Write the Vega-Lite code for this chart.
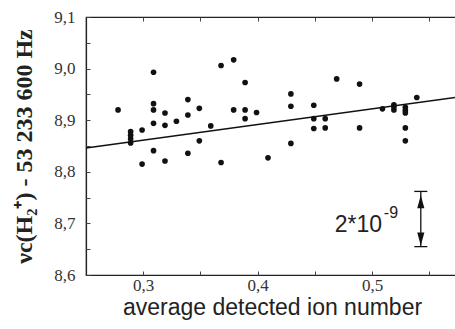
{
  "$schema": "https://vega.github.io/schema/vega-lite/v6.json",
  "autosize": "none",
  "padding": {"left": 86, "top": 17, "right": 0, "bottom": 54},
  "width": 372,
  "height": 258,
  "background": "white",
  "config": {
    "view": {"stroke": "#222", "strokeWidth": 1.2},
    "axis": {"grid": false, "domainColor": "#222", "tickColor": "#444", "labelColor": "#333", "titleColor": "#222"}
  },
  "resolve": {"axis": {"x": "independent", "y": "independent"}},
  "datasets": {
    "pts": [
      {"n": 0.278, "f": 8.920},
      {"n": 0.289, "f": 8.878}, {"n": 0.289, "f": 8.871}, {"n": 0.289, "f": 8.864}, {"n": 0.289, "f": 8.856},
      {"n": 0.299, "f": 8.881}, {"n": 0.299, "f": 8.815},
      {"n": 0.309, "f": 8.993}, {"n": 0.309, "f": 8.932}, {"n": 0.309, "f": 8.920}, {"n": 0.309, "f": 8.894}, {"n": 0.309, "f": 8.841},
      {"n": 0.319, "f": 8.914}, {"n": 0.319, "f": 8.890}, {"n": 0.319, "f": 8.821},
      {"n": 0.329, "f": 8.898},
      {"n": 0.339, "f": 8.940}, {"n": 0.339, "f": 8.910}, {"n": 0.339, "f": 8.836},
      {"n": 0.349, "f": 8.923}, {"n": 0.349, "f": 8.860},
      {"n": 0.359, "f": 8.889},
      {"n": 0.368, "f": 9.006}, {"n": 0.368, "f": 8.818},
      {"n": 0.379, "f": 9.017}, {"n": 0.379, "f": 8.920},
      {"n": 0.389, "f": 8.973}, {"n": 0.389, "f": 8.920}, {"n": 0.389, "f": 8.903},
      {"n": 0.399, "f": 8.915},
      {"n": 0.409, "f": 8.827},
      {"n": 0.429, "f": 8.951}, {"n": 0.429, "f": 8.927}, {"n": 0.429, "f": 8.855},
      {"n": 0.449, "f": 8.929}, {"n": 0.449, "f": 8.903}, {"n": 0.449, "f": 8.884},
      {"n": 0.459, "f": 8.903}, {"n": 0.459, "f": 8.885},
      {"n": 0.469, "f": 8.980},
      {"n": 0.489, "f": 8.970}, {"n": 0.489, "f": 8.885},
      {"n": 0.509, "f": 8.922},
      {"n": 0.519, "f": 8.930}, {"n": 0.519, "f": 8.926}, {"n": 0.519, "f": 8.920},
      {"n": 0.529, "f": 8.925}, {"n": 0.529, "f": 8.919}, {"n": 0.529, "f": 8.914}, {"n": 0.529, "f": 8.885}, {"n": 0.529, "f": 8.860},
      {"n": 0.539, "f": 8.944}
    ],
    "fit": [{"n": 0.25, "f": 8.846}, {"n": 0.575, "f": 8.945}],
    "bar": [{"n": 0.5425, "f": 8.655, "f2": 8.762}],
    "caps": [{"n": 0.5368, "n2": 0.5482, "f": 8.762}, {"n": 0.5368, "n2": 0.5482, "f": 8.655}],
    "headUp": [{"n": 0.5425, "f": 8.742}],
    "headDown": [{"n": 0.5425, "f": 8.670}],
    "labMain": [{"n": 0.5087, "f": 8.684, "t": "2*10"}],
    "labSup": [{"n": 0.5102, "f": 8.710, "t": "-9"}]
  },
  "layer": [
    {
      "data": {"name": "pts"},
      "mark": {"type": "point", "filled": true, "size": 32, "color": "#111", "opacity": 1},
      "encoding": {
        "x": {
          "field": "n", "type": "quantitative",
          "scale": {"domain": [0.25, 0.575], "nice": false, "zero": false},
          "axis": {
            "orient": "bottom",
            "values": [0.3, 0.4, 0.5],
            "labelExpr": "replace(format(datum.value, '.1f'), '.', ',')",
            "labelFont": "Liberation Serif", "labelFontSize": 17, "labelPadding": 2,
            "ticks": false, "domainWidth": 1.2,
            "title": "average detected ion number",
            "titleFont": "Liberation Sans", "titleFontSize": 23, "titleFontWeight": "normal", "titlePadding": 3
          }
        },
        "y": {
          "field": "f", "type": "quantitative",
          "scale": {"domain": [8.6, 9.1], "nice": false, "zero": false},
          "axis": {
            "orient": "left",
            "values": [8.6, 8.7, 8.8, 8.9, 9.0, 9.1],
            "labelExpr": "replace(format(datum.value, '.1f'), '.', ',')",
            "labelFont": "Liberation Serif", "labelFontSize": 17, "labelPadding": 11,
            "ticks": false, "domainWidth": 1.2,
            "title": "νc(H₂⁺) - 53 233 600 Hz",
            "titleFont": "Liberation Serif", "titleFontSize": 24, "titleFontWeight": "bold", "titlePadding": 17
          }
        }
      }
    },
    {
      "data": {"name": "fit"},
      "mark": {"type": "line", "color": "#111", "strokeWidth": 1.5},
      "encoding": {
        "x": {"field": "n", "type": "quantitative",
          "axis": {"orient": "top", "values": [0.3, 0.35, 0.4, 0.45, 0.5, 0.55], "labels": false, "title": null, "domain": false, "tickSize": -4}},
        "y": {"field": "f", "type": "quantitative",
          "axis": {"orient": "left", "values": [8.6, 8.65, 8.7, 8.75, 8.8, 8.85, 8.9, 8.95, 9.0, 9.05, 9.1], "labels": false, "title": null, "domain": false, "tickSize": -4}}
      }
    },
    {
      "data": {"name": "bar"},
      "mark": {"type": "rule", "color": "#111", "strokeWidth": 1.3},
      "encoding": {
        "x": {"field": "n", "type": "quantitative",
          "axis": {"orient": "bottom", "values": [0.3, 0.35, 0.4, 0.45, 0.5, 0.55], "labels": false, "title": null, "domain": false, "tickSize": -4}},
        "y": {"field": "f", "type": "quantitative", "axis": null},
        "y2": {"field": "f2"}
      }
    },
    {
      "data": {"name": "caps"},
      "mark": {"type": "rule", "color": "#111", "strokeWidth": 1.3},
      "encoding": {"x": {"field": "n", "type": "quantitative", "axis": null}, "x2": {"field": "n2"}, "y": {"field": "f", "type": "quantitative", "axis": null}}
    },
    {
      "data": {"name": "headUp"},
      "mark": {"type": "point", "filled": true, "size": 169, "color": "#111", "opacity": 1, "shape": "M0,-1L0.55,1L-0.55,1Z"},
      "encoding": {"x": {"field": "n", "type": "quantitative", "axis": null}, "y": {"field": "f", "type": "quantitative", "axis": null}}
    },
    {
      "data": {"name": "headDown"},
      "mark": {"type": "point", "filled": true, "size": 169, "color": "#111", "opacity": 1, "shape": "M0,1L0.55,-1L-0.55,-1Z"},
      "encoding": {"x": {"field": "n", "type": "quantitative", "axis": null}, "y": {"field": "f", "type": "quantitative", "axis": null}}
    },
    {
      "data": {"name": "labMain"},
      "mark": {"type": "text", "font": "Liberation Sans", "fontSize": 23, "color": "#222", "baseline": "alphabetic", "align": "right"},
      "encoding": {"x": {"field": "n", "type": "quantitative", "axis": null}, "y": {"field": "f", "type": "quantitative", "axis": null}, "text": {"field": "t"}}
    },
    {
      "data": {"name": "labSup"},
      "mark": {"type": "text", "font": "Liberation Sans", "fontSize": 16, "color": "#222", "baseline": "alphabetic", "align": "left"},
      "encoding": {"x": {"field": "n", "type": "quantitative", "axis": null}, "y": {"field": "f", "type": "quantitative", "axis": null}, "text": {"field": "t"}}
    }
  ]
}
